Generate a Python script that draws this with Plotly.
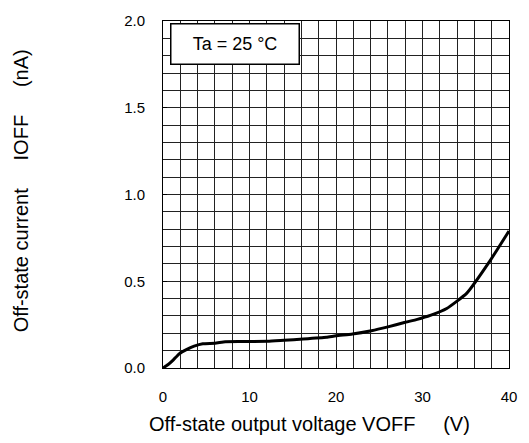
import plotly.graph_objects as go

voff = [0, 0.6, 1.2, 1.9, 2.7, 3.6, 4.6, 6.0, 7.2, 9.0, 12.1, 14.0, 16.2, 18.9, 20.0, 21.9, 24.1, 26.0, 27.9, 29.4, 30.9, 32.8, 35.1, 37.7, 40.0]
ioff = [0, 0.02, 0.047, 0.083, 0.106, 0.126, 0.14, 0.143, 0.152, 0.153, 0.154, 0.16, 0.167, 0.177, 0.186, 0.196, 0.215, 0.237, 0.262, 0.28, 0.303, 0.343, 0.43, 0.61, 0.79]

x_ticks = [0, 10, 20, 30, 40]
y_ticks = [0.0, 0.5, 1.0, 1.5, 2.0]
y_tick_text = ["0.0", "0.5", "1.0", "1.5", "2.0"]

FONT = "Liberation Sans, Arial, sans-serif"

fig = go.Figure()
fig.add_trace(go.Scatter(x=voff, y=ioff, mode="lines",
                         line=dict(color="black", width=3, shape="spline", smoothing=0.4),
                         showlegend=False, hoverinfo="skip"))

L, R, T, B = 163, 12, 14, 75
W, H = 529, 443
pw, ph = W - L - R, H - T - B

fig.update_layout(
    width=W, height=H,
    margin=dict(l=L, r=R, t=T, b=B),
    paper_bgcolor="white", plot_bgcolor="white",
    font=dict(family=FONT, size=15, color="black"),
    xaxis=dict(range=[0, 40], tickvals=x_ticks, ticktext=[str(v) for v in x_ticks],
               showgrid=True, gridcolor="#222", gridwidth=1,
               minor=dict(dtick=2, showgrid=True, gridcolor="#222", gridwidth=1, ticks=""),
               ticks="inside", ticklen=4, tickcolor="black",
               showline=True, linecolor="black", linewidth=1, mirror=True,
               zeroline=False, ticklabelstandoff=15,
               tickfont=dict(size=15, family=FONT)),
    yaxis=dict(range=[0, 2.0], tickvals=y_ticks, ticktext=y_tick_text,
               showgrid=True, gridcolor="#222", gridwidth=1,
               minor=dict(dtick=0.1, showgrid=True, gridcolor="#222", gridwidth=1, ticks=""),
               ticks="inside", ticklen=4, tickcolor="black",
               showline=True, linecolor="black", linewidth=1, mirror=True,
               zeroline=False, ticklabelstandoff=14,
               tickfont=dict(size=15, family=FONT)),
)

nb = "\u00a0"
fig.add_annotation(xref="paper", yref="paper",
                   x=(312.5 - L) / pw, y=(H - B - 425) / ph,
                   xanchor="center", yanchor="middle", showarrow=False,
                   text="Off-state output voltage VOFF" + nb * 5 + "(V)",
                   font=dict(size=20, family=FONT))
fig.add_annotation(xref="paper", yref="paper",
                   x=(18 - L) / pw, y=(H - B - 187.5) / ph,
                   xanchor="center", yanchor="middle", showarrow=False, textangle=-90,
                   text="Off-state current" + nb * 5 + "IOFF" + nb * 5 + "(nA)",
                   font=dict(size=20, family=FONT))
fig.add_annotation(xref="paper", yref="paper",
                   x=(236.5 - L) / pw, y=(H - B - 37.5) / ph,
                   xanchor="center", yanchor="middle", showarrow=False,
                   text="Ta = 25 °C", width=123, height=35,
                   bgcolor="white", bordercolor="black", borderwidth=1.5, borderpad=2,
                   font=dict(size=18, family=FONT))

fig.write_html("out.html")
